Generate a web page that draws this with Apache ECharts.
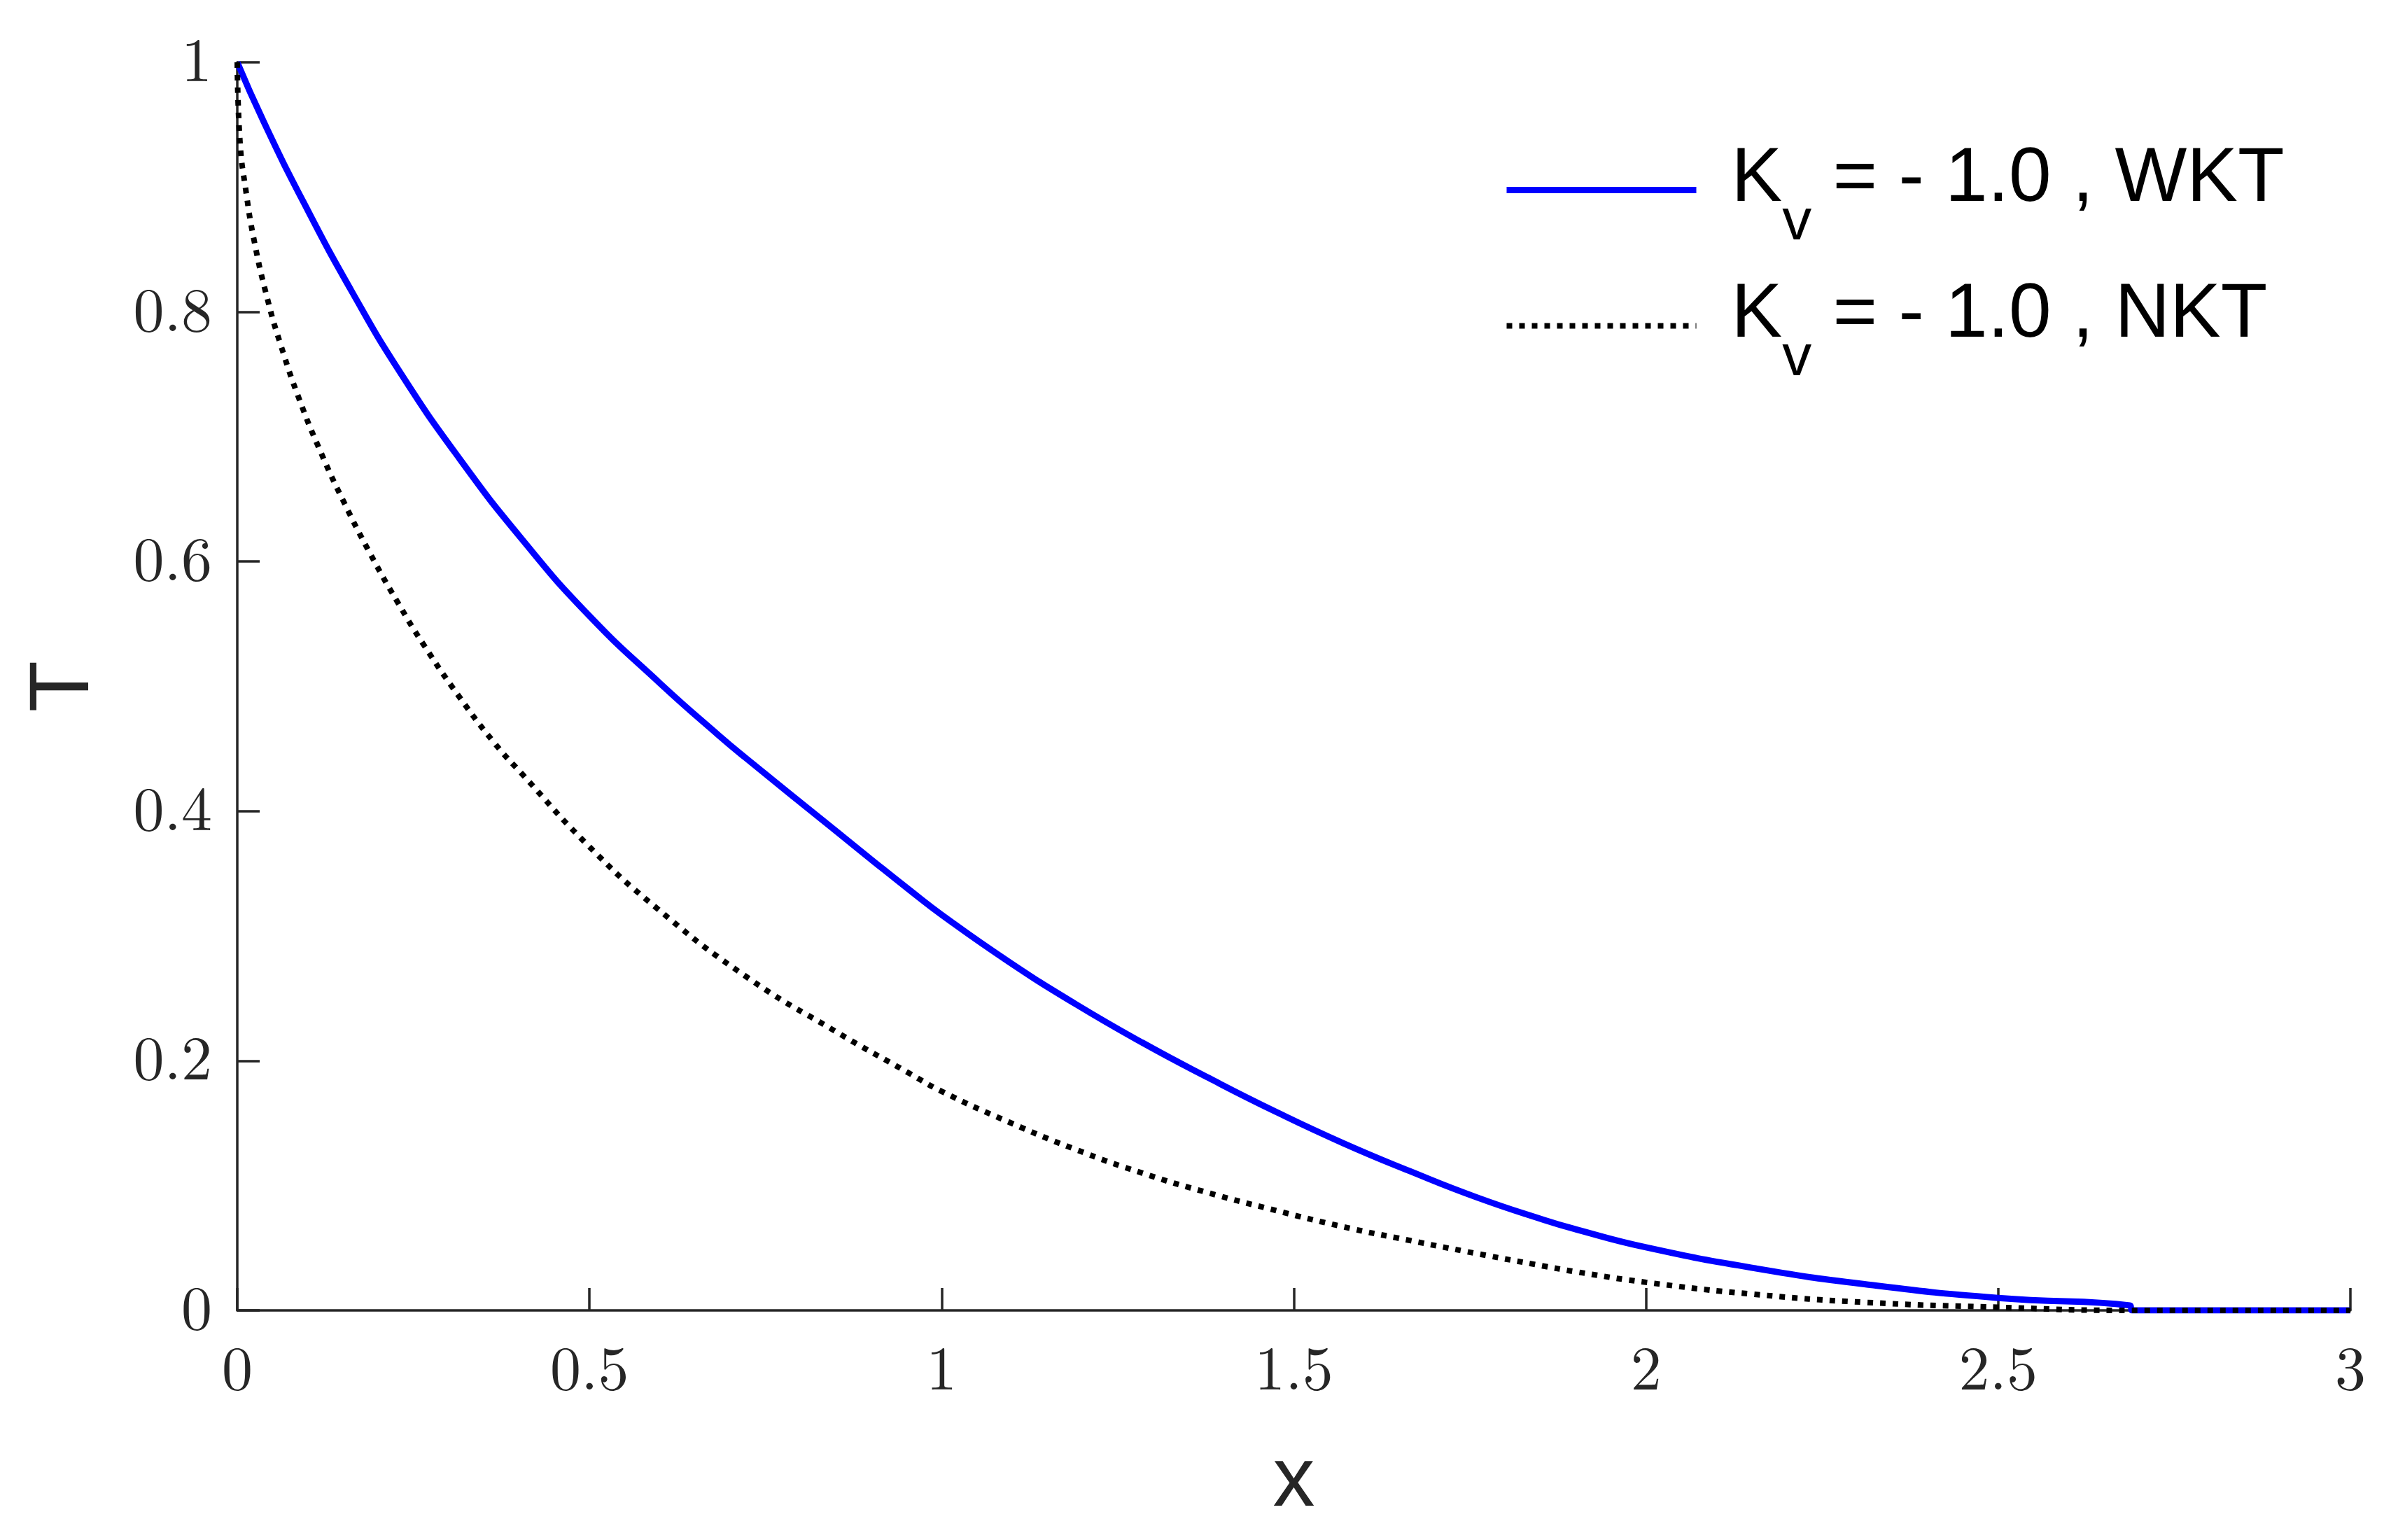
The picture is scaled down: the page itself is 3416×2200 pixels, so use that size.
<!DOCTYPE html>
<html>
<head>
<meta charset="utf-8">
<script src="https://cdn.jsdelivr.net/npm/echarts@6/dist/echarts.min.js"></script>
<style>
    html, body {
        margin: 0;
        padding: 0;
        background: #ffffff;
    }

    #chart {
        width: 3416px;
        height: 2200px;
    }
</style>
</head>
<body>
<div id="chart"></div>
<script>
// WKT curve (solid blue)
const wktX = [0, 0.037, 0.094, 0.164, 0.233, 0.316, 0.404, 0.499, 0.601, 0.683, 0.721, 0.848, 0.905, 0.954,
    1.0, 1.095, 1.19, 1.285, 1.38, 1.475, 1.57, 1.665, 1.76, 1.855, 1.9, 2.0, 2.152, 2.31, 2.5, 2.687, 2.69, 3.0];
const wktT = [1, 0.953, 0.888, 0.815, 0.750, 0.682, 0.618, 0.557, 0.502, 0.461, 0.443, 0.385, 0.359, 0.337,
    0.317, 0.2795, 0.2455, 0.2145, 0.186, 0.159, 0.134, 0.1115, 0.0905, 0.0725, 0.065, 0.0505, 0.034, 0.021, 0.010, 0.004, 0, 0];

// NKT curve (black dotted)
const nktX = [0, 0.004, 0.012, 0.024, 0.043, 0.062, 0.088, 0.119, 0.151, 0.189, 0.227, 0.265, 0.316, 0.366, 0.404,
    0.499, 0.594, 0.721, 0.848, 0.954, 1.0, 1.095, 1.19, 1.285, 1.38, 1.475, 1.57, 1.665, 1.76, 1.855, 1.9,
    2.0, 2.152, 2.31, 2.5, 2.69, 3.0];
const nktT = [1, 0.935, 0.898, 0.857, 0.810, 0.773, 0.730, 0.687, 0.648, 0.606, 0.568, 0.533, 0.491, 0.454, 0.430,
    0.372, 0.323, 0.268, 0.224, 0.190, 0.1755, 0.151, 0.129, 0.110, 0.094, 0.080, 0.067, 0.056, 0.0455, 0.0355, 0.031,
    0.0225, 0.013, 0.0065, 0.0025, 0, 0];

const seriesNames = ['WKT', 'NKT'];

const axisColor = '#262626';
const tickFont = "'Latin Modern Roman', 'Liberation Serif', serif";
const sansFont = "'Liberation Sans', Arial, sans-serif";

let myChart = echarts.init(document.getElementById('chart'), null, { renderer: 'canvas' });

let option = {
    animation: false,
    backgroundColor: '#ffffff',
    grid: {
        left: 339,
        right: 58,
        top: 89,
        bottom: 328,
        containLabel: false
    },
    legend: {
        left: 2148,
        top: 202,
        orient: 'vertical',
        padding: 0,
        itemGap: 35,
        itemWidth: 271,
        itemHeight: 14,
        selectedMode: false,
        data: seriesNames,
        // 图例线宽跟随系列, 不画中间的点
        lineStyle: { width: 'inherit' },
        itemStyle: { opacity: 0 },
        // K with subscript v, then the rest of the label
        formatter: name => `{k|K}{sub|v}{m| = - 1.0 , ${name}}`,
        textStyle: {
            color: '#000000',
            rich: {
                k: { fontSize: 109, fontFamily: sansFont, color: '#000', padding: [0, 0, 30, 45] },
                m: { fontSize: 109, fontFamily: sansFont, color: '#000', padding: [0, 0, 30, 0] },
                sub: { fontSize: 84, fontFamily: sansFont, color: '#000', padding: [95, 0, 0, 0], verticalAlign: 'top' }
            }
        }
    },
    xAxis: {
        type: 'value',
        min: 0,
        max: 3,
        interval: 0.5,
        name: 'x',
        nameLocation: 'middle',
        nameGap: 186,
        nameTextStyle: {
            fontSize: 120,
            fontFamily: sansFont,
            color: axisColor
        },
        axisLine: { show: true, lineStyle: { color: axisColor, width: 3.5 } },
        axisTick: { show: true, inside: true, length: 32, lineStyle: { color: axisColor, width: 3.5 } },
        axisLabel: { margin: 42, fontSize: 88, fontFamily: tickFont, color: axisColor },
        splitLine: { show: false }
    },
    yAxis: {
        type: 'value',
        min: 0,
        max: 1,
        interval: 0.2,
        name: 'T',
        nameLocation: 'middle',
        nameGap: 186,
        nameTextStyle: {
            fontSize: 120,
            fontFamily: sansFont,
            color: axisColor
        },
        axisLine: { show: true, lineStyle: { color: axisColor, width: 3.5 } },
        axisTick: { show: true, inside: true, length: 32, lineStyle: { color: axisColor, width: 3.5 } },
        axisLabel: { margin: 36, fontSize: 88, fontFamily: tickFont, color: axisColor },
        splitLine: { show: false }
    },
    series: [
        {
            name: 'WKT',
            type: 'line',
            data: wktX.map((x, i) => [x, wktT[i]]),
            symbol: 'none',
            smooth: 0.5,
            lineStyle: { color: '#0000ff', width: 9 },
            itemStyle: { color: '#0000ff' },
            z: 2
        },
        {
            name: 'NKT',
            type: 'line',
            data: nktX.map((x, i) => [x, nktT[i]]),
            symbol: 'none',
            smooth: 0.5,
            lineStyle: { color: '#000000', width: 8, type: [8, 10], cap: 'butt' },
            itemStyle: { color: '#000000' },
            z: 3
        }
    ]
};

myChart.setOption(option, true);
window.addEventListener('resize', () => {
    myChart.resize();
});
</script>
</body>
</html>
